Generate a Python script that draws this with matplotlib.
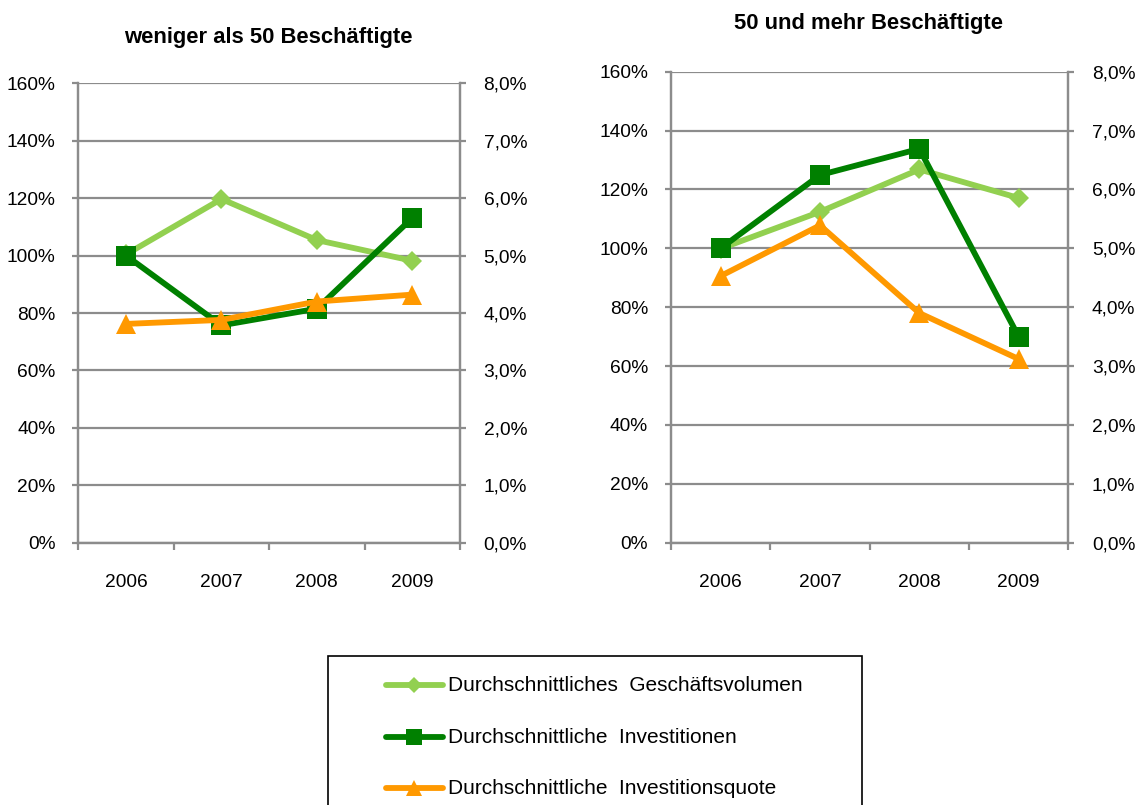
import matplotlib
matplotlib.use("Agg")
import matplotlib.pyplot as plt
from matplotlib.lines import Line2D
from matplotlib.patches import Rectangle
from matplotlib.ticker import FuncFormatter, FixedLocator

# ---- data -------------------------------------------------------------
years = ["2006", "2007", "2008", "2009"]

series_names = [
    "Durchschnittliches  Geschäftsvolumen",
    "Durchschnittliche  Investitionen",
    "Durchschnittliche  Investitionsquote",
]

panel_titles = ["weniger als 50 Beschäftigte", "50 und mehr Beschäftigte"]

# index values in % (left axis)
small_volumen = [100.4, 119.7, 105.4, 98.2]
small_invest = [100.0, 75.7, 81.5, 113.1]
# investment ratio in % (right axis)
small_quote = [3.81, 3.88, 4.20, 4.32]

large_volumen = [99.9, 112.4, 126.8, 117.1]
large_invest = [100.0, 124.9, 133.8, 70.0]
large_quote = [4.53, 5.39, 3.90, 3.12]

left_ticks = [0, 20, 40, 60, 80, 100, 120, 140, 160]
right_ticks = [0.0, 1.0, 2.0, 3.0, 4.0, 5.0, 6.0, 7.0, 8.0]

# ---- style ------------------------------------------------------------
W, H = 1141, 805
C_LIGHT = "#92D050"
C_DARK = "#008000"
C_ORANGE = "#FF9900"
C_GRID = "#8C8C8C"
FONT = ["Liberation Sans", "DejaVu Sans"]
plt.rcParams["font.family"] = FONT
TICK_FS = 13.8

styles = [
    dict(color=C_LIGHT, marker="D", markersize=10, lw=4.2),
    dict(color=C_DARK, marker="s", markersize=14, lw=4.2),
    dict(color=C_ORANGE, marker="^", markersize=14, lw=4.2),
]


def px2fig(x0, y0, x1, y1):
    """pixel box (top-left origin) -> figure rect"""
    return [x0 / W, 1 - y1 / H, (x1 - x0) / W, (y1 - y0) / H]


fig = plt.figure(figsize=(W / 100, H / 100), dpi=100)
fig.patch.set_facecolor("white")

panels = [
    (px2fig(78.3, 83.3, 460.0, 542.7), small_volumen, small_invest, small_quote,
     (268, 38)),
    (px2fig(671.0, 71.7, 1068.3, 542.7), large_volumen, large_invest, large_quote,
     (868, 24)),
]

x = list(range(len(years)))

for (rect, vol, inv, quo, tpos), title in zip(panels, panel_titles):
    ax = fig.add_axes(rect)
    ax2 = ax.twinx()

    ax.plot(x, vol, zorder=3, markeredgewidth=0, **styles[0])
    ax.plot(x, inv, zorder=4, markeredgewidth=0, **styles[1])
    ax2.plot(x, quo, zorder=3, markeredgewidth=0, **styles[2])

    ax.set_xlim(-0.5, len(years) - 0.5)
    ax.set_ylim(0, 160)
    ax2.set_ylim(0, 8)

    ax.set_yticks(left_ticks)
    ax2.set_yticks(right_ticks)
    ax.yaxis.set_major_formatter(FuncFormatter(lambda v, p: f"{v:.0f}%"))
    ax2.yaxis.set_major_formatter(
        FuncFormatter(lambda v, p: f"{v:.1f}%".replace(".", ",")))

    ax.set_xticks(x)
    ax.set_xticklabels(years)
    ax.xaxis.set_minor_locator(FixedLocator([i - 0.5 for i in range(len(years) + 1)]))

    ax.grid(axis="y", color=C_GRID, lw=1.6, zorder=0)
    ax.set_axisbelow(True)

    for a in (ax, ax2):
        a.spines["top"].set_visible(False)
        for s in ("left", "right", "bottom"):
            a.spines[s].set_color(C_GRID)
            a.spines[s].set_linewidth(1.6)

    ax.tick_params(axis="y", direction="out", length=4.5, width=1.6, color=C_GRID,
                   pad=12, labelsize=TICK_FS, labelcolor="black")
    ax2.tick_params(axis="y", direction="out", length=4.5, width=1.6, color=C_GRID,
                    pad=12.5, labelsize=TICK_FS, labelcolor="black")
    ax.tick_params(axis="x", which="major", length=0, pad=22.5, labelsize=TICK_FS)
    ax.tick_params(axis="x", which="minor", direction="out", length=5, width=1.6,
                   color=C_GRID)

    fig.text(tpos[0] / W, 1 - tpos[1] / H, title, ha="center", va="center",
             fontsize=15.8, fontweight="bold")

# ---- legend box -------------------------------------------------------
box = Rectangle((328 / W, 1 - 830 / H), (862 - 328) / W, (830 - 656) / H,
                transform=fig.transFigure, facecolor="white", edgecolor="black",
                lw=1.2, zorder=1)
fig.add_artist(box)

row_y = [685, 737, 788]
for name, st, ry in zip(series_names, styles, row_y):
    yy = 1 - ry / H
    ln = Line2D([386 / W, 443 / W], [yy, yy], transform=fig.transFigure,
                color=st["color"], lw=st["lw"], solid_capstyle="round", zorder=2)
    mk = Line2D([414.5 / W], [yy], transform=fig.transFigure, color=st["color"],
                marker=st["marker"], markersize=st["markersize"] * 0.85,
                markeredgewidth=0, linestyle="none", zorder=3)
    fig.add_artist(ln)
    fig.add_artist(mk)
    fig.text(448 / W, yy, name, ha="left", va="center", fontsize=15, zorder=3)

fig.savefig("out.png", dpi=100, facecolor="white")
